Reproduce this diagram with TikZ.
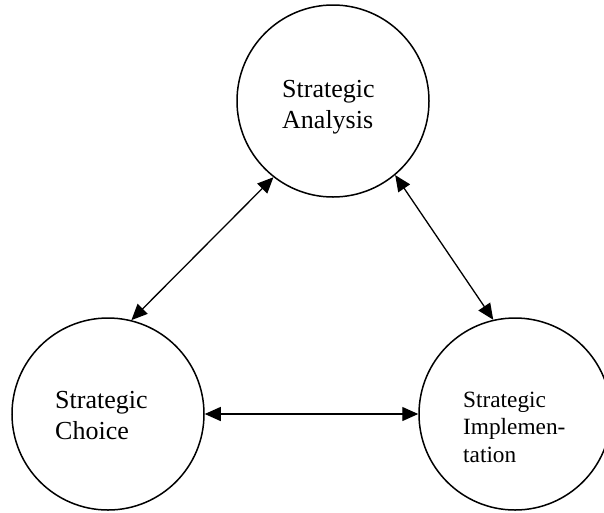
\documentclass[tikz,border=0pt]{standalone}
\usepackage{fontspec}
\setmainfont{Liberation Serif}
\usetikzlibrary{arrows.meta}
\begin{document}
\begin{tikzpicture}[x=1pt,y=-1pt,
  stage/.style={circle,draw,line width=1.5pt,minimum size=192pt,inner sep=0pt},
  stagetext/.style={align=left,inner sep=0pt,anchor=base west},
  bigtext/.style={font=\fontsize{26}{31}\selectfont},
  smalltext/.style={font=\fontsize{23.3}{27.5}\selectfont},
  link/.style={line width=1.3pt,{Triangle[length=16pt,width=14pt]}-{Triangle[length=16pt,width=14pt]}}]
\useasboundingbox (0,0) rectangle (604,512);

% the three stages of the strategy process
\node[stage] (analysis) at (333,101) {};
\node[stage] (choice) at (108,414) {};
\node[stage] (implementation) at (515,414) {};

% stage names (anchored at the baseline of their last line)
\node[stagetext,bigtext] (analysistext) at (282,128) {Strategic\\Analysis};
\node[stagetext,bigtext] (choicetext) at (55,439) {Strategic\\Choice};
\node[stagetext,smalltext] (implementationtext) at (463,462) {Strategic\\Implemen-\\tation};

% two-way links between the stages
\draw[link] (choice.76) -- (analysis.232);
\draw[link] (analysis.310) -- (implementation.103);
\draw[link] (choice.east) -- (implementation.west);
\end{tikzpicture}
\end{document}
